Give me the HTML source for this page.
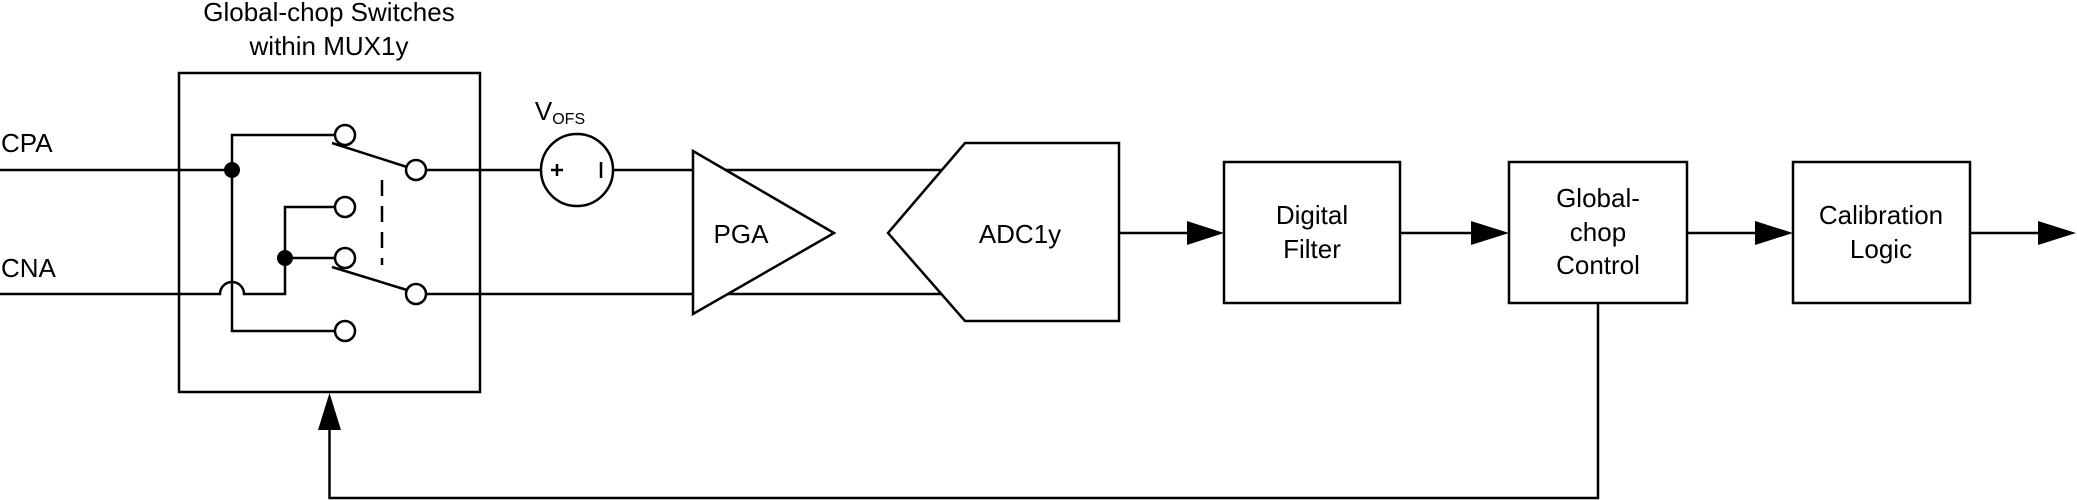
<!DOCTYPE html>
<html><head><meta charset="utf-8"><style>
html,body{margin:0;padding:0;background:#fff}
svg{display:block}
text{font-family:"Liberation Sans",Arial,sans-serif;fill:#000}
</style></head><body>
<svg width="2077" height="500" viewBox="0 0 2077 500" xmlns="http://www.w3.org/2000/svg">
<g stroke="#000" stroke-width="2.5" fill="none">
<rect x="179" y="73" width="301" height="319"/>
<line x1="0" y1="170" x2="232" y2="170"/>
<path d="M0 294 H220 A12 12 0 0 1 244 294 H285 V207 H335"/>
<line x1="285" y1="258" x2="335" y2="258"/>
<path d="M335 135 H232 V331 H335"/>
<circle cx="345" cy="135" r="10" fill="#fff"/>
<circle cx="345" cy="207" r="10" fill="#fff"/>
<circle cx="345" cy="258" r="10" fill="#fff"/>
<circle cx="345" cy="331" r="10" fill="#fff"/>
<circle cx="416" cy="170" r="10" fill="#fff"/>
<circle cx="416" cy="294" r="10" fill="#fff"/>
<line x1="332" y1="143" x2="407" y2="167"/>
<line x1="332" y1="267" x2="407" y2="290"/>
<line x1="382" y1="180" x2="382" y2="265" stroke-dasharray="16,10"/>
<line x1="426" y1="170" x2="541" y2="170"/>
<line x1="613" y1="170" x2="942" y2="170"/>
<line x1="426" y1="294" x2="942" y2="294"/>
<circle cx="577" cy="170" r="36" fill="#fff"/>
<line x1="551" y1="170" x2="563" y2="170"/>
<line x1="557" y1="164" x2="557" y2="176"/>
<line x1="601" y1="162" x2="601" y2="178"/>
<polygon points="693,151 834,233 693,314" fill="#fff"/>
<polygon points="965,143 1119,143 1119,321 965,321 888,233" fill="#fff"/>
<rect x="1224" y="162" width="176" height="141"/>
<rect x="1509" y="162" width="178" height="141"/>
<rect x="1793" y="162" width="177" height="141"/>
<line x1="1119" y1="233" x2="1190" y2="233"/>
<line x1="1400" y1="233" x2="1475" y2="233"/>
<line x1="1687" y1="233" x2="1758" y2="233"/>
<line x1="1970" y1="233" x2="2040" y2="233"/>
<path d="M1598 303 V498 H329.5 V425"/>
</g>
<g fill="#000">
<ellipse cx="232" cy="170" rx="8" ry="8"/>
<ellipse cx="285" cy="258" rx="8" ry="8"/>
<polygon points="1187,221 1224,233 1187,245"/>
<polygon points="1471,221 1509,233 1471,245"/>
<polygon points="1755,221 1793,233 1755,245"/>
<polygon points="2038,221 2076,233 2038,245"/>
<polygon points="318,430 329.5,393 341,430"/>
</g>
<g font-size="26" text-anchor="middle">
<text x="329" y="21">Global-chop Switches</text>
<text x="329" y="55">within MUX1y</text>
<text x="1" y="152" text-anchor="start">CPA</text>
<text x="1" y="277" text-anchor="start">CNA</text>
<text x="560" y="120">V<tspan font-size="16" dy="4">OFS</tspan></text>
<text x="741" y="243">PGA</text>
<text x="1020" y="243">ADC1y</text>
<text x="1312" y="224">Digital</text>
<text x="1312" y="258">Filter</text>
<text x="1598" y="207">Global-</text>
<text x="1598" y="241">chop</text>
<text x="1598" y="274">Control</text>
<text x="1881" y="224">Calibration</text>
<text x="1881" y="258">Logic</text>
</g>
</svg>
</body></html>
